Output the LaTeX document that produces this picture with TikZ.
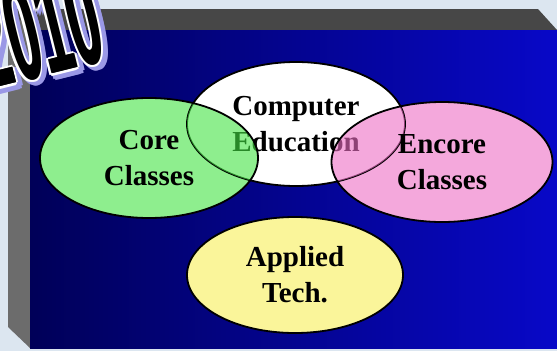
\documentclass[tikz,border=0pt]{standalone}
\usepackage{fontspec}
\setmainfont{Liberation Serif}
\newfontfamily\yearfont{Liberation Sans}
\usepackage{tikz}
\usepackage{xcolor}
\usetikzlibrary{shapes.geometric}

\definecolor{paper}{HTML}{DCE6F0}
\definecolor{navyL}{HTML}{000058}
\definecolor{navyR}{HTML}{0808C8}
\definecolor{topface}{HTML}{474747}
\definecolor{sideface}{HTML}{6C6C6C}
\definecolor{coregreen}{HTML}{8EEE8E}
\definecolor{coremix}{HTML}{43E343}
\definecolor{encorepink}{HTML}{F4A8DC}
\definecolor{encoremix}{HTML}{ED6EC5}
\definecolor{appliedyellow}{HTML}{FAF59A}
\definecolor{lavender}{HTML}{9A98E6}

\begin{document}
\begin{tikzpicture}[x=1pt, y=-1pt,
  bubble/.style={ellipse, inner sep=0pt, minimum width=218pt, minimum height=120pt,
    font=\bfseries\fontsize{29}{36}\selectfont, align=center},
  rim/.style={draw=black, line width=1.8pt},
  yeartext/.style={inner sep=0pt, rotate=14, xscale=0.4,
    font=\yearfont\bfseries\fontsize{140}{140}\selectfont}]
  \fill[paper] (0,0) rectangle (557,351);
  \clip (0,0) rectangle (557,351);
  \fill[topface] (8,9) -- (538,9) -- (557,30) -- (30,30) -- cycle;
  \fill[sideface] (8,9) -- (30,30) -- (30,348) -- (8,327) -- cycle;
  \shade[left color=navyL, right color=navyR] (30,30) rectangle (557,348);

  \node[bubble, fill=coregreen] (coreback) at (149,158) {};
  \node[bubble, fill=encorepink, minimum width=221pt] (encoreback) at (442,162) {};
  \node[bubble, rim, fill=white, minimum height=124pt] (comp) at (296,124) {Computer\\Education};
  \begin{scope}
    \clip (comp.center) ellipse [x radius=109pt, y radius=62pt];
    \fill[coremix, opacity=0.6] (coreback.center) ellipse [x radius=109pt, y radius=60pt];
    \fill[encoremix, opacity=0.6] (encoreback.center) ellipse [x radius=110.5pt, y radius=60pt];
  \end{scope}
  \node[bubble, rim] (core) at (coreback) {Core\\Classes};
  \node[bubble, rim, minimum width=221pt] (encore) at (encoreback) {Encore\\Classes};
  \node[bubble, rim, fill=appliedyellow, minimum width=216pt, minimum height=116pt] (applied) at (295,275) {Applied\\Tech.};

  \foreach \a in {0,45,...,315}
    \node[yeartext, text=lavender] at ([shift={(\a:3.5)}] 41,31) {2010};
  \foreach \a in {0,45,...,315}
    \node[yeartext, text=white] at ([shift={(\a:2.5)}] 37,28) {2010};
  \node[yeartext, text=black] at ([xshift=0.7pt] 37,28) {2010};
  \node[yeartext, text=black] (year) at (37,28) {2010};
\end{tikzpicture}
\end{document}
